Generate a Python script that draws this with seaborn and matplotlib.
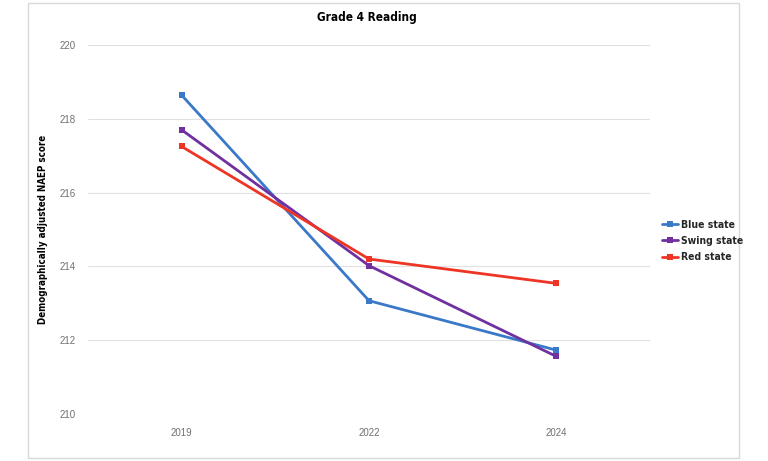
import matplotlib
matplotlib.use("Agg")
import matplotlib.pyplot as plt
import seaborn as sns
import pandas as pd
from matplotlib.patches import Rectangle
from matplotlib.font_manager import FontProperties

years = ["2019", "2022", "2024"]
blue_state = [218.64, 213.07, 211.73]
swing_state = [217.70, 214.02, 211.56]
red_state = [217.25, 214.20, 213.54]
series_names = ["Blue state", "Swing state", "Red state"]
colors = ["#3A78C8", "#7030A0", "#EE3424"]

rows = []
for name, vals in zip(series_names, [blue_state, swing_state, red_state]):
    for y, v in zip(years, vals):
        rows.append({"Year": y, "Score": v, "Series": name})
df = pd.DataFrame(rows)

sns.set_theme(style="white")
plt.rcParams["font.family"] = ["Liberation Sans", "DejaVu Sans"]

def narrow(size):
    return FontProperties(family=["DejaVu Sans"], stretch="condensed", weight="bold", size=size)

fig = plt.figure(figsize=(7.68, 4.61), dpi=100)
ax = fig.add_axes([88/768, 1-414/461, (650-88)/768, (414-45)/461])

sns.lineplot(data=df, x="Year", y="Score", hue="Series", hue_order=series_names,
             palette=colors, marker="s", markersize=4, markeredgewidth=0,
             linewidth=2, ax=ax, legend=True, sort=False)

ax.set_ylim(210, 220)
ax.set_yticks([210, 212, 214, 216, 218, 220])
ax.set_xlim(-0.5, 2.5)
ax.grid(axis="y", color="#E0E0E0", linewidth=0.8)
ax.set_axisbelow(True)
for s in ax.spines.values():
    s.set_visible(False)
ax.tick_params(axis="both", length=0, labelsize=7, labelcolor="#707070", pad=9)
ax.tick_params(axis="x", pad=10)
ax.set_xlabel("")
ax.set_ylabel("Demographically adjusted NAEP score", fontproperties=narrow(7),
              color="black", labelpad=8)

fig.text(367/768, 1-17/461, "Grade 4 Reading", ha="center", va="center",
         fontproperties=narrow(8.5), color="black")

handles, labels = ax.get_legend_handles_labels()
ax.get_legend().remove()
leg = fig.legend(handles, labels, loc="center left", bbox_to_anchor=(653/768, 1-241/461),
                 frameon=False, handlelength=1.5, handletextpad=0.25, labelspacing=0.6,
                 prop=narrow(7.5))

fig.patches.append(Rectangle((28/768, 1-458/461), (739-28)/768, (458-3)/461,
                             transform=fig.transFigure, fill=False,
                             edgecolor="#D9D9D9", linewidth=1))

fig.savefig("out.png", dpi=100)
